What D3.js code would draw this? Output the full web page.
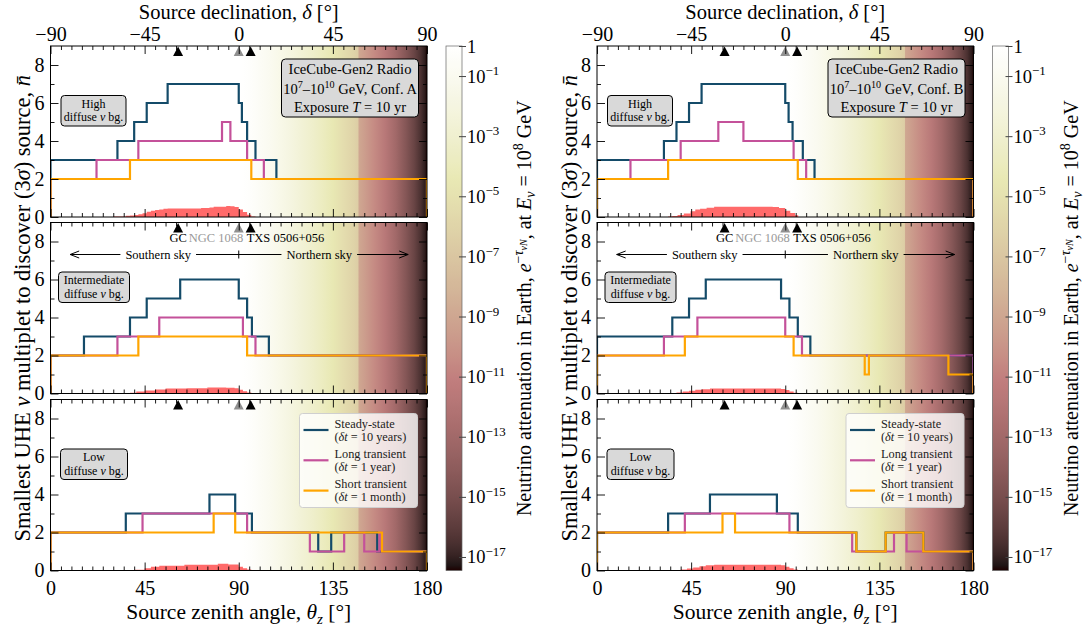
<!DOCTYPE html>
<html><head><meta charset="utf-8">
<script src="https://cdn.jsdelivr.net/npm/d3@7/dist/d3.min.js"></script>
<style>html,body{margin:0;padding:0;background:#fff;overflow:hidden}svg{display:block}</style>
</head><body>
<svg id="chart" width="1086" height="628"></svg>
<script>
// ===================== DATA =====================
const zenithTicks = [0, 45, 90, 135, 180];
const declinationTicks = [-90, -45, 0, 45, 90];
const nTicks = [0, 2, 4, 6, 8];
const cbarExponents = [0, -1, -3, -5, -7, -9, -11, -13, -15, -17];
const cbarLogMin = -17.45;

const seriesNames = ["Steady-state", "Long transient", "Short transient"];
const seriesDurations = ["10 years", "1 year", "1 month"];
const bgLevels = ["High", "Intermediate", "Low"];
const configs = ["A", "B"];

const sourceNames = ["GC", "NGC 1068", "TXS 0506+056"];
const sourceDecl = [-29.0, -0.01, 5.69];

// Step series: [zenith where step starts (deg), smallest multiplet n]; last step runs to 180
const aHighSteady = [[0,3],[32,4],[40,5],[46,6],[56,7],[90,6],[91.5,5],[94,4],[98,3],[108,2]];
const aHighLong   = [[0,2],[22,3],[42,4],[82,5],[86,4],[94,3],[102,2]];
const aHighShort  = [[0,2],[38,3],[96,2]];
const aIntSteady  = [[0,2],[16,3],[38,4],[46,5],[62,6],[90,5],[94,4],[96.3,3],[104.4,2]];
const aIntLong    = [[0,2],[32,3],[52,4],[92,3],[98,2]];
const aIntShort   = [[0,2],[42,3],[94,2]];
const aLowSteady  = [[0,2],[36,3],[76,4],[88.3,3],[96.3,2],[128,1],[134.2,2],[156.2,1]];
const aLowLong    = [[0,2],[44,3],[94,2],[124,1],[140.4,2],[150,1],[157.3,2],[158.5,1]];
const aLowShort   = [[0,2],[78,3],[88.3,2],[158.5,1]];

const bHighSteady = [[0,3],[32,4],[38,5],[44,6],[50,7],[90,6],[91.6,5],[93.5,4],[98.4,3],[104,2]];
const bHighLong   = [[0,2],[16,3],[40,4],[58,5],[70,4],[94,3],[100,2]];
const bHighShort  = [[0,2],[34,3],[96,2]];
const bIntSteady  = [[0,3],[36,4],[44,5],[52,6],[88,5],[92,4],[96,3],[102,2]];
const bIntLong    = [[0,2],[32,3],[48,4],[90,3],[98,2]];
const bIntShort   = [[0,2],[42,3],[94,2],[128,1],[130,2],[168,1]];
const bLowSteady  = [[0,2],[34,3],[54,4],[86,3],[96,2],[124,1],[138,2],[156,1]];
const bLowLong    = [[0,2],[42,3],[92,2],[122,1],[142,2],[148,1]];
const bLowShort   = [[0,2],[60,3],[66,2],[124,1],[138,2],[156,1]];

// Red histograms: [bin start zenith, height]; last entry closes the histogram
const aHighHist = [[30,0.02],[34,0.03],[36,0.06],[38,0.08],[40,0.11],[42,0.14],[44,0.2],[46,0.28],[48,0.33],[50,0.37],[52,0.4],[54,0.43],[56,0.45],[72,0.47],[76,0.5],[78,0.54],[84,0.58],[86,0.56],[88,0.52],[90,0.4],[92,0.26],[94,0.12],[96,0.03],[98,0]];
const aIntHist  = [[34,0.02],[38,0.04],[41,0.1],[45,0.16],[50,0.21],[55,0.26],[65,0.27],[75,0.32],[84,0.3],[88,0.28],[90,0.2],[92,0.12],[94,0.05],[96,0]];
const aLowHist  = [[40,0.04],[45,0.12],[48,0.2],[52,0.25],[64,0.3],[80,0.35],[85,0.32],[90,0.2],[92,0.12],[94,0.05],[96,0]];
const bHighHist = [[34,0.03],[36,0.05],[38.5,0.1],[41.5,0.18],[44.7,0.3],[47,0.39],[49.3,0.44],[52.4,0.49],[56,0.54],[84,0.53],[87,0.47],[90,0.33],[92.4,0.21],[94.7,0.09],[96.2,0]];
const bIntHist  = [[34,0.02],[38,0.05],[41,0.1],[44,0.15],[47,0.2],[50,0.23],[54,0.26],[84,0.26],[88,0.24],[90,0.18],[92,0.1],[94,0.04],[96,0]];
const bLowHist  = [[36,0.02],[40,0.05],[43,0.1],[46,0.16],[49,0.22],[52,0.27],[56,0.3],[84,0.3],[88,0.27],[90,0.2],[92,0.12],[94,0.05],[96,0]];

// Neutrino attenuation in Earth vs zenith (log10 of e^-tau)
const attenZenith = [0, 90, 92, 95, 100, 105, 110, 115, 120, 125, 130, 135, 140, 145, 147, 147.5, 150, 155, 160, 165, 170, 174, 177, 179, 180];
const attenLog10  = [0, 0, -0.05, -0.2, -0.6, -1.0, -1.5, -2.0, -2.6, -3.2, -3.8, -4.5, -5.3, -6.1, -6.5, -9.0, -9.5, -10.5, -11.7, -13.0, -14.5, -15.6, -16.5, -17.1, -17.45];

const figSeries = [
  [[aHighSteady, aHighLong, aHighShort], [aIntSteady, aIntLong, aIntShort], [aLowSteady, aLowLong, aLowShort]],
  [[bHighSteady, bHighLong, bHighShort], [bIntSteady, bIntLong, bIntShort], [bLowSteady, bLowLong, bLowShort]]
];
const figHists = [[aHighHist, aIntHist, aLowHist], [bHighHist, bIntHist, bLowHist]];

// ===================== STYLE / LAYOUT =====================
const FONT = "'Liberation Serif','DejaVu Serif',serif";
const seriesColors = ["#144b69", "#c4519a", "#ffa500"];
const sourceColors = ["#000", "#909090", "#000"];
const histColor = "#ff6a6a";
const figOffsets = [0, 546.5];
const plotLeft = 50.5, plotWidth = 376.5;
const panelTops = [46, 222.5, 399.5], panelH = 171;

// matplotlib 'pink' colormap
function pinkCmap(t) {
  t = Math.max(0, Math.min(1, t));
  const cl = v => Math.max(0, Math.min(1, v));
  const hr = cl(t / 0.365079), hg = cl((t - 0.365079) / 0.380953), hb = cl((t - 0.746032) / 0.253968);
  const r = Math.sqrt((2 * t + hr) / 3), g = Math.sqrt((2 * t + hg) / 3), b = Math.sqrt((2 * t + hb) / 3);
  return d3.rgb(Math.max(30, r * 255), g * 255, b * 255).formatHex();
}
const cNorm = d3.scaleLinear().domain([cbarLogMin, 0]).range([0, 1]).clamp(true);

function rich(sel, parts, base) {
  let shift = 0;
  parts.forEach(p => {
    const arr = Array.isArray(p) ? p : [p, ""];
    const flags = arr[1].split(" ");
    const ts = sel.append("tspan").text(arr[0]);
    let target = 0, size = base;
    if (flags.includes("sup")) { target = -0.4 * base; size = 0.7 * base; }
    if (flags.includes("sub")) { target = 0.22 * base; size = 0.7 * base; }
    if (flags.includes("supsub")) { target = -0.22 * base; size = 0.5 * base; }
    if (target - shift !== 0) ts.attr("dy", target - shift);
    shift = target;
    ts.attr("font-size", size);
    if (flags.includes("it")) ts.attr("font-style", "italic");
  });
  return sel;
}
function txt(parent, x, y, size, anchor) {
  return parent.append("text").attr("x", x).attr("y", y).attr("font-family", FONT)
    .attr("font-size", size).attr("text-anchor", anchor || "middle").attr("fill", "#000");
}

const svg = d3.select("#chart");
const defs = svg.append("defs");

figOffsets.forEach((ox, fi) => {
  const g = svg.append("g");
  const x = d3.scaleLinear().domain([0, 180]).range([ox + plotLeft, ox + plotLeft + plotWidth]);
  const xDec = d3.scaleLinear().domain([-90, 90]).range(x.range());
  const x0 = x(0), x1 = x(180);

  const gid = "bg" + fi;
  const grad = defs.append("linearGradient").attr("id", gid).attr("gradientUnits", "userSpaceOnUse")
    .attr("x1", x0).attr("x2", x1).attr("y1", 0).attr("y2", 0);
  attenZenith.forEach((z, i) => grad.append("stop").attr("offset", z / 180).attr("stop-color", pinkCmap(cNorm(attenLog10[i]))));

  panelTops.forEach((top, pi) => {
    const bottom = top + panelH;
    const y = d3.scaleLinear().domain([0, 9]).range([bottom, top]);
    const pg = g.append("g");
    const cid = "clip" + fi + "_" + pi;
    defs.append("clipPath").attr("id", cid).append("rect").attr("x", x0).attr("y", top).attr("width", x1 - x0).attr("height", panelH);

    pg.append("rect").attr("x", x0).attr("y", top).attr("width", x1 - x0).attr("height", panelH).attr("fill", `url(#${gid})`);

    const inner = pg.append("g").attr("clip-path", `url(#${cid})`);
    const area = d3.area().curve(d3.curveStepAfter).x(d => x(d[0])).y0(y(0)).y1(d => y(d[1]));
    inner.append("path").attr("d", area(figHists[fi][pi])).attr("fill", histColor);

    const line = d3.line().x(d => x(d[0])).y(d => y(d[1]));
    figSeries[fi][pi].forEach((steps, si) => {
      const pts = [[0, 0]];
      steps.forEach((s, i) => {
        const end = i + 1 < steps.length ? steps[i + 1][0] : 180;
        pts.push([s[0], s[1]]); pts.push([end, s[1]]);
      });
      pts.push([180, 0]);
      inner.append("path").attr("d", line(pts)).attr("fill", "none")
        .attr("stroke", seriesColors[si]).attr("stroke-width", 2.2).attr("stroke-linejoin", "miter");
    });

    sourceDecl.forEach((d, k) => {
      const cx = xDec(d);
      pg.append("path").attr("d", `M${cx},${top + 0.5}L${cx + 5},${top + 10}L${cx - 5},${top + 10}Z`).attr("fill", sourceColors[k]);
    });

    const minor = d3.range(0, 181, 5).filter(v => v % 45 !== 0);
    const mk = (axisFn, scale, vals, size, tr) => {
      const a = pg.append("g").attr("transform", tr)
        .call(axisFn(scale).tickValues(vals).tickSizeInner(-size).tickSizeOuter(0).tickFormat(""));
      a.select(".domain").remove();
      a.selectAll(".tick line").attr("stroke", "#000").attr("stroke-width", 0.9);
      return a;
    };
    mk(d3.axisBottom, x, zenithTicks, 8, `translate(0,${bottom})`);
    mk(d3.axisBottom, x, minor, 4, `translate(0,${bottom})`);
    mk(d3.axisTop, x, zenithTicks, 8, `translate(0,${top})`);
    mk(d3.axisTop, x, minor, 4, `translate(0,${top})`);
    mk(d3.axisLeft, y, nTicks, 8, `translate(${x0},0)`);
    mk(d3.axisLeft, y, [1, 3, 5, 7], 4, `translate(${x0},0)`);
    mk(d3.axisRight, y, nTicks, 8, `translate(${x1},0)`);
    mk(d3.axisRight, y, [1, 3, 5, 7], 4, `translate(${x1},0)`);

    const yl = pg.append("g").attr("transform", `translate(${x0},0)`)
      .call(d3.axisLeft(y).tickValues(nTicks).tickSize(0).tickPadding(6));
    yl.select(".domain").remove();
    yl.attr("font-family", FONT).attr("font-size", 20);
    yl.selectAll("text").attr("fill", "#000");

    pg.append("rect").attr("x", x0).attr("y", top).attr("width", x1 - x0).attr("height", panelH)
      .attr("fill", "none").attr("stroke", "#000").attr("stroke-width", 1);

    if (pi === 0) {
      const xa = pg.append("g").attr("transform", `translate(0,${top})`)
        .call(d3.axisTop(xDec).tickValues(declinationTicks).tickSize(0).tickPadding(5));
      xa.select(".domain").remove();
      xa.attr("font-family", FONT).attr("font-size", 20);
      xa.selectAll("text").attr("fill", "#000");
      rich(txt(pg, (x0 + x1) / 2, 18.5, 20.5), ["Source declination, ", ["δ", "it"], " [°]"], 20.5);

      const bx = x0 + 231, bw = 137, by = top + 13, bh = 58;
      pg.append("rect").attr("x", bx).attr("y", by).attr("width", bw).attr("height", bh).attr("rx", 4)
        .attr("fill", "#d9d9d9").attr("stroke", "#000").attr("stroke-width", 1);
      const cx = bx + bw / 2;
      txt(pg, cx, top + 28, 14.5).text("IceCube-Gen2 Radio");
      rich(txt(pg, cx, top + 48, 14.5), ["10", ["7", "sup"], "–10", ["10", "sup"], " GeV, Conf. " + configs[fi]], 14.5);
      rich(txt(pg, cx, top + 66, 14.5), ["Exposure ", ["T", "it"], " = 10 yr"], 14.5);
    }
    if (pi === 2) {
      const xa = pg.append("g").attr("transform", `translate(0,${bottom})`)
        .call(d3.axisBottom(x).tickValues(zenithTicks).tickSize(0).tickPadding(10.5));
      xa.select(".domain").remove();
      xa.attr("font-family", FONT).attr("font-size", 20);
      xa.selectAll("text").attr("fill", "#000");
      rich(txt(pg, (x0 + x1) / 2, 619, 21.5), ["Source zenith angle, ", ["θ", "it"], ["z", "sub it"], " [°]"], 21.5);

      const lx = x0 + 249, ly = top + 14, lw = 118, lh = 94;
      pg.append("rect").attr("x", lx).attr("y", ly).attr("width", lw).attr("height", lh).attr("rx", 3)
        .attr("fill", "#fff").attr("fill-opacity", 0.8).attr("stroke", "#cfcfcf").attr("stroke-width", 1);
      seriesNames.forEach((nm, si) => {
        const yy = top + 30.5 + si * 30.3;
        pg.append("line").attr("x1", lx + 4).attr("x2", lx + 29).attr("y1", yy).attr("y2", yy)
          .attr("stroke", seriesColors[si]).attr("stroke-width", 2.2);
        txt(pg, lx + 35, yy - 2.3, 12.3, "start").attr("fill", "#222").text(nm);
        rich(txt(pg, lx + 35, yy + 10.5, 12.3, "start").attr("fill", "#222"), ["(", ["δt", "it"], " = " + seriesDurations[si] + ")"], 12.3);
      });
    }
    if (pi === 1) {
      const ty = top + 19;
      txt(pg, xDec(sourceDecl[0]), ty, 12.5).text(sourceNames[0]);
      txt(pg, xDec(sourceDecl[1]) + 4.5, ty, 12.5, "end").attr("fill", "#999").text(sourceNames[1]);
      txt(pg, xDec(sourceDecl[2]) - 4, ty, 12.5, "start").text(sourceNames[2]);
      const ay = top + 32;
      const sT = txt(pg, x(51.5), ay + 4.3, 12.5).text("Southern sky");
      const nT = txt(pg, x(128.5), ay + 4.3, 12.5).text("Northern sky");
      const sw = sT.node().getComputedTextLength(), nw = nT.node().getComputedTextLength();
      const L = x(9.4), R = x(171);
      const segs = [[L, x(51.5) - sw / 2 - 5], [x(51.5) + sw / 2 + 5, x(128.5) - nw / 2 - 5], [x(128.5) + nw / 2 + 5, R]];
      segs.forEach(s => pg.append("line").attr("x1", s[0]).attr("x2", s[1]).attr("y1", ay).attr("y2", ay).attr("stroke", "#000").attr("stroke-width", 1));
      pg.append("line").attr("x1", x(90)).attr("x2", x(90)).attr("y1", ay - 4).attr("y2", ay + 4).attr("stroke", "#000").attr("stroke-width", 1);
      pg.append("path").attr("d", `M${L + 9},${ay - 3.5}L${L},${ay}L${L + 9},${ay + 3.5}`).attr("fill", "none").attr("stroke", "#000").attr("stroke-width", 1);
      pg.append("path").attr("d", `M${R - 9},${ay - 3.5}L${R},${ay}L${R - 9},${ay + 3.5}`).attr("fill", "none").attr("stroke", "#000").attr("stroke-width", 1);
    }

    const boxX = [10.5, 8, 10][pi], boxW = [65, 71, 67][pi];
    pg.append("rect").attr("x", x0 + boxX).attr("y", top + 49.5).attr("width", boxW).attr("height", 30.5).attr("rx", 3.5)
      .attr("fill", "#d9d9d9").attr("stroke", "#000").attr("stroke-width", 1);
    const bcx = x0 + boxX + boxW / 2;
    txt(pg, bcx, top + 61.5, 12).text(bgLevels[pi]);
    rich(txt(pg, bcx, top + 75, 12), ["diffuse ", ["ν", "it"], " bg."], 12);
  });

  const ymid = (panelTops[0] + panelTops[2] + panelH) / 2;
  rich(txt(g, 0, 0, 22.5).attr("transform", `translate(${ox + 30},${ymid}) rotate(-90)`),
    ["Smallest UHE ", ["ν", "it"], " multiplet to discover (3", ["σ", "it"], ") source, ", ["n̄", "it"]], 22.5);

  // colorbar
  const cbx = x1 + 19, cbw = 16, cbTop = panelTops[0], cbBot = panelTops[2] + panelH;
  const cs = d3.scaleLinear().domain([0, cbarLogMin]).range([cbTop, cbBot]);
  const cg = defs.append("linearGradient").attr("id", "cb" + fi).attr("x1", 0).attr("x2", 0).attr("y1", 0).attr("y2", 1);
  d3.range(0, 101).forEach(i => {
    const t = i / 100;
    cg.append("stop").attr("offset", t).attr("stop-color", pinkCmap(1 - t));
  });
  g.append("rect").attr("x", cbx).attr("y", cbTop).attr("width", cbw).attr("height", cbBot - cbTop)
    .attr("fill", `url(#cb${fi})`).attr("stroke", "#666").attr("stroke-width", 0.7);
  const ca = g.append("g").attr("transform", `translate(${cbx + cbw - 3},0)`)
    .call(d3.axisRight(cs).tickValues(cbarExponents).tickSizeInner(7).tickSizeOuter(0).tickFormat(""));
  ca.select(".domain").remove();
  ca.selectAll(".tick line").attr("stroke", "#444").attr("stroke-width", 1);
  cbarExponents.forEach(e => {
    const t = txt(g, cbx + cbw + 5, cs(e) + 6.5, 18.5, "start");
    if (e === 0) t.text("1");
    else rich(t, ["10", ["−" + Math.abs(e), "sup"]], 18.5);
  });
  rich(txt(g, 0, 0, 20).attr("transform", `translate(${ox + 531},${ymid}) rotate(-90)`),
    ["Neutrino attenuation in Earth, ", ["e", "it"], ["−", "sup"], ["τ", "sup it"], ["νN", "supsub it"], ", at ", ["E", "it"], ["ν", "sub it"], " = 10", ["8", "sup"], " GeV"], 20);
});
</script>
</body></html>
